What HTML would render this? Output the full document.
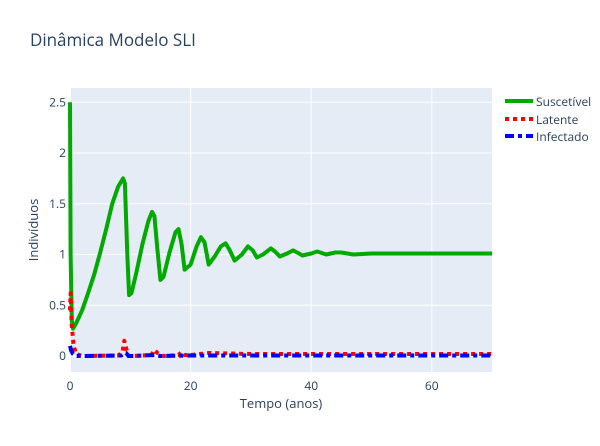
<!DOCTYPE html>
<html><head><meta charset="utf-8"><style>
body{margin:0;background:#fff;font-family:"Liberation Sans",sans-serif;}
svg text{font-family:"Open Sans","Liberation Sans",sans-serif;}
</style></head><body>
<svg id="chart" width="600" height="441">
<rect width="600" height="441" fill="#fff"/>
<text x="30" y="46" font-size="17" fill="#2a3f5f">Dinâmica Modelo SLI</text>
<rect x="70" y="88" width="422" height="284" fill="#e5ecf6"/>
<g id="grid"></g><g id="series"></g><g id="ticks"></g>
<text x="281" y="408" font-size="13" fill="#2a3f5f" text-anchor="middle">Tempo (anos)</text>
<text x="38" y="230" font-size="13" fill="#2a3f5f" text-anchor="middle" transform="rotate(-90 38 230)">Indivíduos</text>
<g>
<g><line x1="505" y1="101" x2="533" y2="101" stroke="#00aa00" stroke-width="4"/><text x="536" y="106" font-size="12" fill="#2a3f5f">Suscetível</text></g>
<g><line x1="505" y1="119" x2="533" y2="119" stroke="#ff0000" stroke-width="4" stroke-dasharray="4,4"/><text x="536" y="124" font-size="12" fill="#2a3f5f">Latente</text></g>
<g><line x1="505" y1="136" x2="533" y2="136" stroke="#0000ff" stroke-width="4" stroke-dasharray="9,4,4,4"/><text x="536" y="141" font-size="12" fill="#2a3f5f">Infectado</text></g>
</g>
</svg>
<script>
const sT=[0,0.1,0.3,0.5,1,2,3,4,5,6,7,8,8.5,8.8,9.1,9.5,9.8,10.2,11,12,13,13.6,14,14.5,15,15.5,16.5,17.5,18,18.5,19,20,21,21.7,22.3,23,24,25,25.8,26.5,27.3,28.5,29.5,30.3,31,32,33.3,34,34.8,36,37,38,38.5,40,41,42.5,44,45,47,50,55,60,65,70];
const sV=[2.5,1.0,0.35,0.27,0.32,0.45,0.62,0.8,1.02,1.25,1.5,1.67,1.72,1.75,1.7,1.0,0.6,0.62,0.82,1.1,1.33,1.42,1.38,1.05,0.75,0.78,1.02,1.22,1.25,1.1,0.85,0.9,1.08,1.17,1.12,0.9,0.98,1.08,1.11,1.04,0.94,1.0,1.08,1.04,0.97,1.0,1.06,1.03,0.98,1.01,1.04,1.01,0.99,1.01,1.03,1.0,1.02,1.02,1.0,1.01,1.01,1.01,1.01,1.01];
const lT=[0,0.1,0.3,0.6,1,2,8,8.7,9,9.3,9.7,10.5,13.5,14,14.5,15.5,18,18.5,19,20,23,30,70];
const lV=[0.45,0.62,0.3,0.1,0.02,0.0,0.005,0.04,0.15,0.08,0.0,0.0,0.01,0.06,0.03,0.0,0.01,0.04,0.01,0.01,0.03,0.02,0.02];
const iT=[0,0.2,0.5,1,2,8.5,9,9.3,9.7,10.5,14,15,20,70];
const iV=[0.1,0.05,0.02,0.0,0.0,0.005,0.03,0.03,0.0,0.0,0.01,0.0,0.005,0.005];
const xTicks=[0,20,40,60];
const yTicks=[0,0.5,1,1.5,2,2.5];
const yLabels=["0","0.5","1","1.5","2","2.5"];
const X=t=>70+t*6.03, Y=v=>356-v*101.5;
const NS="http://www.w3.org/2000/svg";
function mk(tag,attrs,parent){const e=document.createElementNS(NS,tag);for(const k in attrs)e.setAttribute(k,attrs[k]);parent.appendChild(e);return e;}
const grid=document.getElementById('grid'),ticks=document.getElementById('ticks'),ser=document.getElementById('series');
xTicks.forEach(t=>{
 const l=mk('line',{x1:X(t),x2:X(t),y1:88,y2:372,stroke:'#fff','stroke-width':t===0?2:1},grid);
 
 
 const tx=mk('text',{x:X(t),y:390,'font-size':12,fill:'#2a3f5f','text-anchor':'middle'},ticks);tx.textContent=t;
 
 
});
yTicks.forEach((v,i)=>{
 const l=mk('line',{x1:70,x2:492,y1:Y(v),y2:Y(v),stroke:'#fff','stroke-width':v===0?2:1},grid);
 
 
 const tx=mk('text',{x:66,y:Y(v)+4,'font-size':12,fill:'#2a3f5f','text-anchor':'end'},ticks);tx.textContent=yLabels[i];
 
 
});
function line(T,V,color,dash,name){
 const d=T.map((t,i)=>(i?'L':'M')+X(t).toFixed(1)+','+Y(V[i]).toFixed(1)).join('');
 const p=mk('path',{d:d,fill:'none',stroke:color,'stroke-width':4,'stroke-linejoin':'round'},ser);
 if(dash)p.setAttribute('stroke-dasharray',dash);
 
 
}
line(sT,sV,'#00aa00',null,'suscetivel-line');
line(lT,lV,'#ff0000','4,4','latente-line');
line(iT,iV,'#0000ff','9,4,4,4','infectado-line');
</script>
</body></html>
